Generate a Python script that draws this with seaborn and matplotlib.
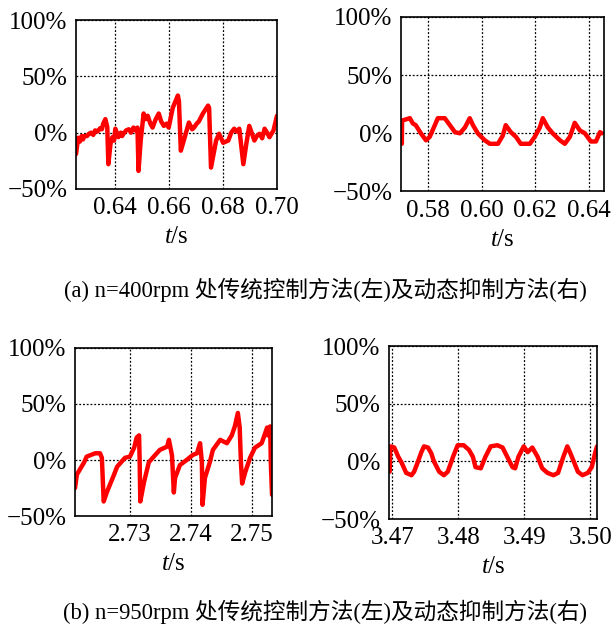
import numpy as np
import pandas as pd
import matplotlib
matplotlib.use("Agg")
import matplotlib.pyplot as plt
import seaborn as sns

# (a) n=400rpm, traditional control (left)
t_a = [0.6254, 0.6262, 0.6268, 0.6275, 0.6280, 0.6285, 0.6295, 0.6302, 0.6310, 0.6318, 0.6325,
       0.6334, 0.6344, 0.6350, 0.6355, 0.6363, 0.6370,
       0.6374, 0.6382, 0.6389, 0.6395, 0.6400, 0.6411, 0.6420, 0.6425, 0.6430, 0.6440, 0.6450,
       0.6458, 0.6467, 0.6475, 0.6482,
       0.6486, 0.6494, 0.6505, 0.6512, 0.6520, 0.6530, 0.6538, 0.6545, 0.6550, 0.6561, 0.6570,
       0.6580, 0.6590, 0.6598,
       0.6613, 0.6632, 0.6636, 0.6643, 0.6654, 0.6673, 0.6685, 0.6692, 0.6702, 0.6710, 0.6725,
       0.6744, 0.6748,
       0.6755, 0.6774, 0.6785, 0.6800, 0.6819, 0.6830, 0.6841, 0.6850, 0.6860, 0.6875, 0.6886,
       0.6897, 0.6916, 0.6925,
       0.6935, 0.6945, 0.6954, 0.6963, 0.6972, 0.6987, 0.7000]
v_a = [-19, -4.5, -8, -3, -6, -3, -3, -1, 0, -2, 2,
       1, 4, 3, 8, 12, 5,
       -28, -10, -4, -7, 3.5, -4, 0, -3, -1, 2, 3,
       0, 4.5, 2, 4.5,
       -34, -7, 17, 12, 15, 8, 4.5, 9, 12, 17, 10,
       6, 8, 4.5,
       22, 33, 28, -16, -7, 9, 3, 4.5, 8, 10, 17,
       24, 22,
       -31, -7, -1, -9, -7, 0, 3.5, 1, 3.5, -28, -10,
       6, -7, -3,
       -1, -5, 3.5, 0, -4, 2, 15]

# (a) n=400rpm, dynamic suppression (right)
t_b = [0.5703, 0.5704, 0.5733, 0.5744, 0.5755, 0.5774, 0.5793, 0.5807, 0.5826, 0.5837, 0.5863,
       0.5882, 0.5901, 0.5919, 0.5938, 0.5956, 0.5968, 0.5986, 0.6012, 0.6031, 0.6061, 0.6079,
       0.6090, 0.6109, 0.6128, 0.6146, 0.6180, 0.6198, 0.6217, 0.6228, 0.6247, 0.6265, 0.6292,
       0.6310, 0.6329, 0.6347, 0.6366, 0.6385, 0.6407, 0.6426, 0.6441, 0.6448]
v_b = [-9, 11, 13, 8.5, 7, 0, -6, -3, 7, 13, 13,
       7, 1, 0, 5, 13, 7, 0, -6, -9, -9, -2,
       7, 1, -3, -9, -9, -3, 5, 13, 5, 0, -6,
       -9, -3, 9, 2.5, 0, -7, -7, 1, 0]

# (b) n=950rpm, traditional control (left)
t_c = [2.7210, 2.7213, 2.7225, 2.7229, 2.7243, 2.7251, 2.7254, 2.7257, 2.7262, 2.7274, 2.7279,
       2.7292, 2.7300, 2.7307, 2.7311, 2.7315, 2.7316, 2.7317, 2.7323, 2.7331, 2.7339, 2.7349,
       2.7361, 2.7364, 2.7369, 2.7372, 2.7374, 2.7382, 2.7393, 2.7403, 2.7410, 2.7415, 2.7418,
       2.7419, 2.7423, 2.7431, 2.7436, 2.7448, 2.7459, 2.7467, 2.7472, 2.7477, 2.7480, 2.7482,
       2.7484, 2.7489, 2.7497, 2.7505, 2.7516, 2.7525, 2.7526, 2.7530, 2.7531, 2.7533]
v_c = [-25, -13, -2, 3, 6, 6, 2, -37, -29, -13, -6,
       2, 3, 11, 20, 22, -2, -37, -20, -2, 3, 9,
       12, 18, 4, -29, -16, -4.5, 0, 4.5, 6, 15, -2,
       -40, -16, -2, 9, 18, 15, 22, 30, 42, 29, -2,
       -21, -11, 2, 11, 15, 29, 22, 30, -2, -31]

# (b) n=950rpm, dynamic suppression (right)
t_d = [3.4696, 3.4697, 3.4703, 3.4709, 3.4714, 3.4721, 3.4729, 3.4733, 3.4739, 3.4744, 3.4748,
       3.4754, 3.4759, 3.4763, 3.4771, 3.4778, 3.4784, 3.4792, 3.4799, 3.4808, 3.4816, 3.4822,
       3.4826, 3.4834, 3.4841, 3.4849, 3.4859, 3.4867, 3.4874, 3.4882, 3.4886, 3.4891, 3.4899,
       3.4905, 3.4912, 3.4920, 3.4927, 3.4935, 3.4944, 3.4951, 3.4959, 3.4965, 3.4969, 3.4974,
       3.4981, 3.4988, 3.4996, 3.5002, 3.5007, 3.5010]
v_d = [-9, 13, 12, 4, -1, -10, -12, -9, 0, 8, 13,
       12, 7, 0, -9, -12, -9, 4, 14, 14, 10, 4,
       -5, -6, 4, 13, 14, 12, 4, -5, -6, 4, 13,
       8, 12, 4, -6, -10, -12, -10, 4, 13, 8, 1,
       -9, -12, -10, -5, 7, 13]

xlims = [(0.6254, 0.7000), (0.5700, 0.6456), (2.7210, 2.7533), (3.4695, 3.5010)]
xticks = [[0.64, 0.66, 0.68, 0.70], [0.58, 0.60, 0.62, 0.64],
          [2.73, 2.74, 2.75], [3.47, 3.48, 3.49, 3.50]]
yticks = [-50, 0, 50, 100]
ytick_labels = ["\u221250%", "0%", "50%", "100%"]
captions = ["(a) n=400rpm 处传统控制方法(左)及动态抑制方法(右)",
            "(b) n=950rpm 处传统控制方法(左)及动态抑制方法(右)"]

sns.set_theme(style="white")
plt.rcParams["font.family"] = ["Liberation Serif", "Noto Sans CJK SC"]
plt.rcParams["mathtext.fontset"] = "custom"
plt.rcParams["mathtext.it"] = "Liberation Serif:italic"
plt.rcParams["mathtext.rm"] = "Liberation Serif"

fig = plt.figure(figsize=(6.16, 6.27), dpi=100)
positions = [[0.1234, 0.6986, 0.3263, 0.2695],
             [0.6510, 0.6946, 0.3295, 0.2783],
             [0.1218, 0.1770, 0.3198, 0.2680],
             [0.6315, 0.1722, 0.3377, 0.2759]]
series = [(t_a, v_a), (t_b, v_b), (t_c, v_c), (t_d, v_d)]

for i, (t, v) in enumerate(series):
    ax = fig.add_axes(positions[i])
    df = pd.DataFrame({"t": t, "v": v})
    sns.lineplot(data=df, x="t", y="v", ax=ax, color="#ff0000", linewidth=3.2,
                 estimator=None, sort=False)
    ax.set_xlim(*xlims[i])
    ax.set_ylim(-50, 100)
    ax.set_xticks(xticks[i])
    ax.set_xticklabels([f"{x:.2f}" for x in xticks[i]])
    ax.set_yticks(yticks)
    ax.set_yticklabels(ytick_labels)
    ax.grid(True, color="black", linestyle=(0, (1.5, 1.5)), linewidth=0.9)
    for s in ax.spines.values():
        s.set_color("black")
        s.set_linewidth(1.2)
    ax.tick_params(axis="both", labelsize=18, colors="black", length=0, pad=6)
    ax.set_xlabel("$t$/s", fontsize=18, color="black", labelpad=5)
    ax.set_ylabel("")

fig.text(0.528, 0.5375, captions[0], ha="center", va="center", fontsize=16.3, color="black")
fig.text(0.528, 0.024, captions[1], ha="center", va="center", fontsize=16.3, color="black")

fig.savefig("out.png", dpi=100)
